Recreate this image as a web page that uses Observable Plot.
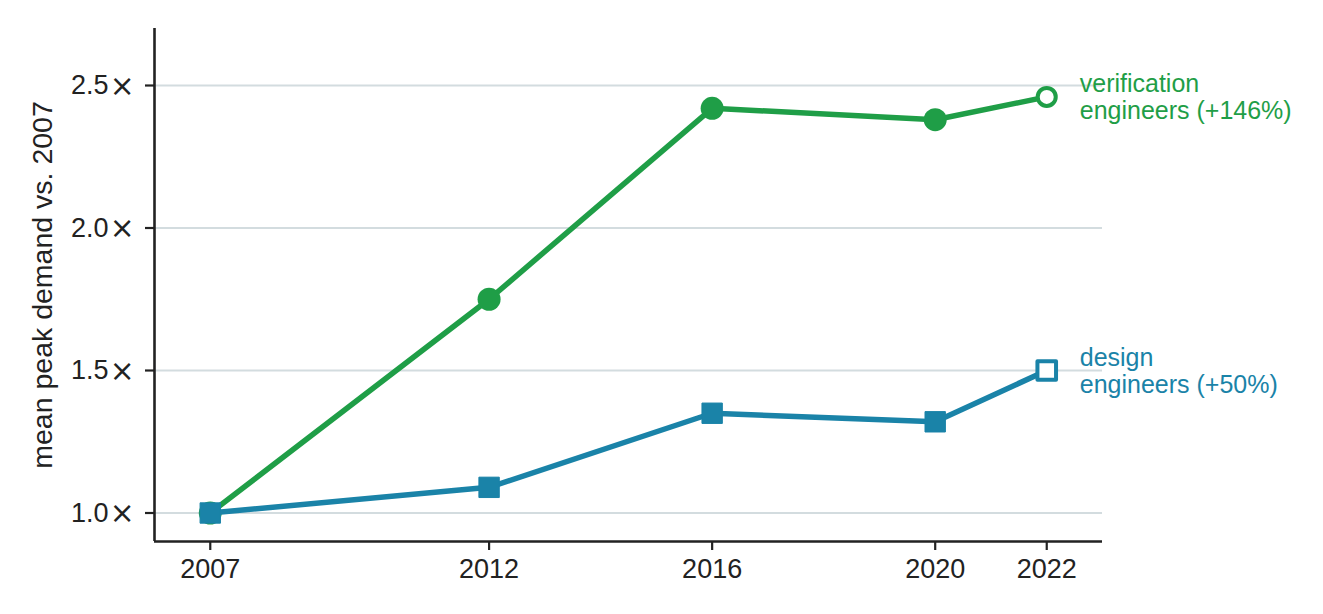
<!DOCTYPE html>
<html>
<head>
<meta charset="utf-8">
<script src="https://cdn.jsdelivr.net/npm/d3@7"></script>
<script src="https://cdn.jsdelivr.net/npm/@observablehq/plot@0.6"></script>
<style>
  html, body { margin: 0; padding: 0; background: #fff; }
</style>
</head>
<body>
<div id="chart"></div>
<script>
const years = [2007, 2012, 2016, 2020, 2022];
const verification = [1.0, 1.75, 2.42, 2.38, 2.46];
const design = [1.0, 1.09, 1.35, 1.32, 1.50];
const seriesLabels = ["verification\nengineers (+146%)", "design\nengineers (+50%)"];
const yTicks = [1.0, 1.5, 2.0, 2.5];
const xTicks = [2007, 2012, 2016, 2020, 2022];
const yLabel = "mean peak demand vs. 2007";

const green = "#1f9e47";
const blue = "#1a83a8";

const ver = years.map((year, i) => ({year, value: verification[i]}));
const des = years.map((year, i) => ({year, value: design[i]}));
const verLast = [ver[ver.length - 1]];
const desLast = [des[des.length - 1]];
const verFirst = ver.slice(0, -1);
const desFirst = des.slice(0, -1);

const font = "Liberation Sans, Arial, Helvetica, sans-serif";

const chart = Plot.plot({
  width: 1323,
  height: 614,
  marginLeft: 154,
  marginRight: 221,
  marginTop: 28,
  marginBottom: 73,
  style: {fontFamily: font, fontSize: "27px", color: "#222", background: "#fff"},
  x: {domain: [2006, 2023]},
  y: {domain: [0.9, 2.7]},
  marks: [
    Plot.gridY(yTicks, {stroke: "#d3dcdf", strokeOpacity: 1, strokeWidth: 2}),
    Plot.axisY(yTicks, {
      tickFormat: d => d.toFixed(1) + "\u00d7",
      tickSize: 9, tickPadding: 11, strokeWidth: 2.2,
      label: null, fontSize: 27, fill: "#222", stroke: "#222"
    }),
    Plot.text([yLabel], {
      frameAnchor: "left", dx: -123, rotate: -90, textAnchor: "middle", lineAnchor: "top",
      fontSize: 28.5, fill: "#222"
    }),
    Plot.axisX(xTicks, {
      tickFormat: d => String(d),
      tickSize: 9, tickPadding: 8, strokeWidth: 2.2,
      label: null, fontSize: 27, fill: "#222", stroke: "#222"
    }),
    Plot.ruleX([2006], {stroke: "#222", strokeWidth: 2.6}),
    Plot.ruleY([0.9], {stroke: "#222", strokeWidth: 2.6}),
    Plot.line(ver, {x: "year", y: "value", stroke: green, strokeWidth: 5.5}),
    Plot.dot(verFirst, {x: "year", y: "value", r: 11.5, fill: green}),
    Plot.dot(verLast, {x: "year", y: "value", r: 9, fill: "#fff", stroke: green, strokeWidth: 4}),
    Plot.line(des, {x: "year", y: "value", stroke: blue, strokeWidth: 5.5}),
    Plot.dot(desFirst, {x: "year", y: "value", r: 11.5, symbol: "square", fill: blue, stroke: blue, strokeWidth: 1, strokeLinejoin: "round"}),
    Plot.dot(desLast, {x: "year", y: "value", r: 10.5, symbol: "square", fill: "#fff", stroke: blue, strokeWidth: 4, strokeLinejoin: "round"}),
    Plot.text(verLast, {x: "year", y: "value", text: () => seriesLabels[0], dx: 33, textAnchor: "start", lineAnchor: "middle", fill: green, fontSize: 25, lineHeight: 1.1}),
    Plot.text(desLast, {x: "year", y: "value", text: () => seriesLabels[1], dx: 33, textAnchor: "start", lineAnchor: "middle", fill: blue, fontSize: 25, lineHeight: 1.1})
  ]
});

// render the multiplication sign of the y tick labels with a wider glyph
d3.select(chart).selectAll('g[aria-label="y-axis tick label"] text').each(function () {
  const t = d3.select(this);
  const s = t.text();
  if (s.endsWith("\u00d7")) {
    t.text(s.slice(0, -1));
    t.append("tspan").attr("dx", "0.04em").attr("dy", "0.05em")
      .style("font-family", "DejaVu Sans, sans-serif").style("font-size", "1.1em")
      .text("\u00d7");
  }
});

document.getElementById("chart").appendChild(chart);
</script>
</body>
</html>
